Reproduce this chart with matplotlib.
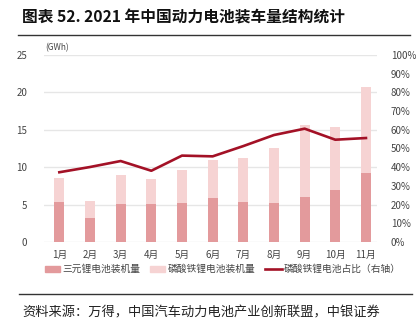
import matplotlib
matplotlib.use("Agg")
import matplotlib.pyplot as plt
from matplotlib.patches import Rectangle
from matplotlib.lines import Line2D

plt.rcParams['font.family'] = ['Noto Sans CJK SC', 'DejaVu Sans']

months = ['1月', '2月', '3月', '4月', '5月', '6月', '7月', '8月', '9月', '10月', '11月']
ternary = [5.35, 3.25, 5.08, 5.12, 5.17, 5.93, 5.35, 5.26, 6.06, 6.9, 9.18]
lfp = [3.25, 2.28, 3.83, 3.26, 4.5, 5.03, 5.88, 7.26, 9.58, 8.47, 11.59]
lfp_share = [37.3, 40.1, 43.3, 38.1, 46.2, 45.8, 51.3, 57.2, 60.6, 54.7, 55.6]
left_ticks = [0, 5, 10, 15, 20, 25]
right_ticks = [0, 10, 20, 30, 40, 50, 60, 70, 80, 90, 100]

c_dark = '#E39A9C'
c_light = '#F6D3D3'
c_line = '#A31126'
grid_c = '#E6E6E6'
tick_c = '#444444'

fig = plt.figure(figsize=(4.2, 3.31), dpi=100)
W, H = 420, 331

ax = fig.add_axes([44 / W, 1 - 242 / H, (377 - 44) / W, (242 - 55) / H])
x = list(range(1, len(months) + 1))
ax.bar(x, ternary, width=0.33, color=c_dark, zorder=2)
ax.bar(x, lfp, width=0.33, bottom=ternary, color=c_light, zorder=2)
ax.set_xlim(0.5, 11.36)
ax.set_ylim(0, 25)
ax.set_yticks(left_ticks)
ax.set_xticks(x)
ax.set_xticklabels(months)
for t in left_ticks:
    ax.axhline(t, color=grid_c, lw=1.0, zorder=0)
for s in ax.spines.values():
    s.set_visible(False)
ax.tick_params(axis='both', length=0, labelsize=7, colors=tick_c)
ax.tick_params(axis='y', pad=12)
ax.tick_params(axis='x', pad=6)

ax2 = ax.twinx()
ax2.plot(x, lfp_share, color=c_line, lw=1.9, zorder=3)
ax2.set_ylim(0, 100)
ax2.set_yticks(right_ticks)
ax2.set_yticklabels([f'{t}%' for t in right_ticks])
for s in ax2.spines.values():
    s.set_visible(False)
ax2.tick_params(axis='y', length=0, labelsize=7, colors=tick_c, pad=10)

fig.text(45 / W, 1 - 48 / H, '(GWh)', fontsize=6, color=tick_c, va='center', ha='left')

# Title
fig.text(22 / W, 1 - 17 / H, '图表 52. 2021 年中国动力电池装车量结构统计', fontsize=11.3,
         fontweight='bold', color='#111111', va='center', ha='left')
fig.add_artist(Line2D([18 / W, 410 / W], [1 - 35 / H, 1 - 35 / H], color='#333333', lw=1.0))

# Legend
ly = 1 - 269 / H
fig.add_artist(Rectangle((45 / W, ly - 3 / H), 15 / W, 6 / H, color=c_dark, transform=fig.transFigure))
fig.text(62 / W, ly, '三元锂电池装机量', fontsize=7, color=tick_c, va='center', ha='left')
fig.add_artist(Rectangle((150 / W, ly - 3 / H), 15 / W, 6 / H, color=c_light, transform=fig.transFigure))
fig.text(168 / W, ly, '磷酸铁锂电池装机量', fontsize=7, color=tick_c, va='center', ha='left')
fig.add_artist(Line2D([265 / W, 282 / W], [ly, ly], color=c_line, lw=1.9))
fig.text(284 / W, ly, '磷酸铁锂电池占比（右轴）', fontsize=7, color=tick_c, va='center', ha='left')

# Source
fig.add_artist(Line2D([19 / W, 412 / W], [1 - 294 / H, 1 - 294 / H], color='#333333', lw=1.0))
fig.text(22 / W, 1 - 313 / H, '资料来源：万得，中国汽车动力电池产业创新联盟，中银证券', fontsize=9.5,
         color='#222222', va='center', ha='left', style='italic')

fig.savefig('out.png', dpi=100)
